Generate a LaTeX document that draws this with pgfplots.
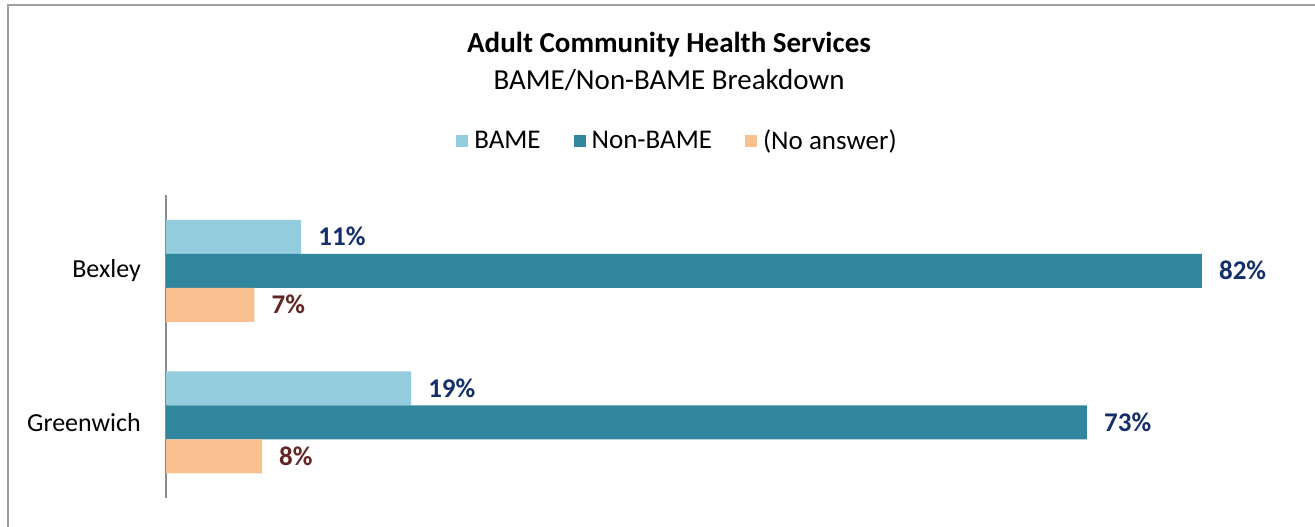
\documentclass[border=0pt]{standalone}
\usepackage{pgfplots}
\pgfplotsset{compat=1.18}
\usepackage{fontspec}
\setmainfont{Carlito}
\definecolor{bame}{HTML}{93CDDD}
\definecolor{nonbame}{HTML}{31859C}
\definecolor{noans}{HTML}{FAC090}
\definecolor{navy}{HTML}{142F6B}
\definecolor{brownlab}{HTML}{632523}
\definecolor{framegray}{HTML}{A0A0A0}
\definecolor{axgray}{HTML}{8C8C8C}
\begin{document}
\begin{tikzpicture}[x=1pt,y=1pt]
\path[use as bounding box] (0,0) rectangle (1315,-527);
\draw[framegray, line width=2pt] (8,-528) -- (8,-5) -- (1316,-5);
\node[font=\fontsize{29}{34}\selectfont\bfseries] at (669,-45) {Adult Community Health Services};
\node[font=\fontsize{29}{34}\selectfont] at (669,-80) {BAME/Non-BAME Breakdown};
\begin{axis}[
  at={(166pt,-195pt)}, anchor=north west,
  scale only axis, width=1137pt, height=303pt,
  xbar, bar width=34pt,
  xmin=0, xmax=90, ymin=-0.5, ymax=1.5, y dir=reverse,
  axis x line=none,
  axis y line*=left,
  y axis line style={axgray, line width=1.5pt},
  ytick={0,1}, yticklabels={Bexley,Greenwich},
  major tick length=0pt,
  yticklabel style={font=\fontsize{26}{31}\selectfont, inner sep=0pt, xshift=-25pt},
  point meta=explicit symbolic,
  nodes near coords={\pgfplotspointmeta\%},
  nodes near coords style={anchor=west, inner sep=0pt, xshift=17pt, font=\fontsize{27}{32}\selectfont\bfseries},
  legend columns=3,
  legend style={at={(0.449,1.179)}, anchor=center, draw=none, fill=none,
    font=\fontsize{27}{32}\selectfont,
    nodes={inner sep=0pt},
    /tikz/every odd column/.append style={column sep=6pt},
    /tikz/every even column/.append style={column sep=33pt},
    inner sep=0pt},
  legend image code/.code={\fill[#1,draw=none] (0pt,-6pt) rectangle (12pt,6pt);},
]
\addplot[fill=bame, draw=none, bar shift=34pt, nodes near coords style={navy}] coordinates {(10.7,0) [11] (19.4,1) [19]};
\addlegendentry{BAME}
\addplot[fill=nonbame, draw=none, bar shift=0pt, nodes near coords style={navy}] coordinates {(82.0,0) [82] (72.9,1) [73]};
\addlegendentry{Non-BAME}
\addplot[fill=noans, draw=none, bar shift=-34pt, nodes near coords style={brownlab}] coordinates {(7.0,0) [7] (7.6,1) [8]};
\addlegendentry{(No answer)}
\end{axis}
\end{tikzpicture}
\end{document}
